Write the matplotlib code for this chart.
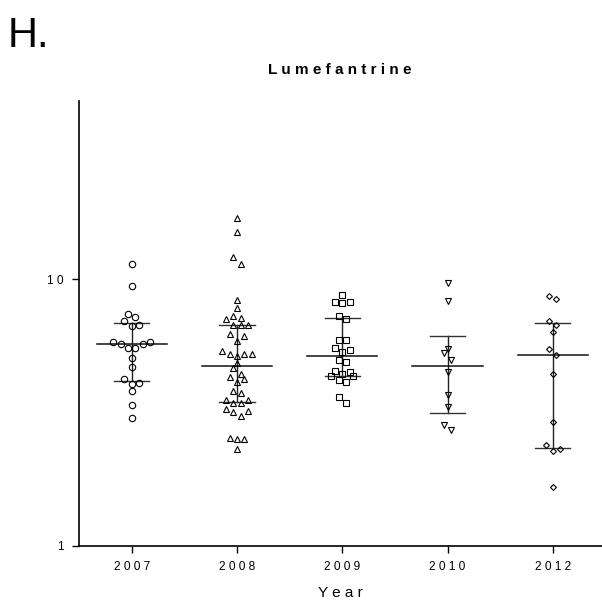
import numpy as np
import matplotlib.pyplot as plt

# values (log scale)
years = ['2007', '2008', '2009', '2010', '2012']

v2007 = [11.4, 9.4, 7.41, 7.2, 6.95, 6.74, 6.67, 5.81, 5.81, 5.71, 5.71,
         5.53, 5.53, 5.05, 4.68, 4.23, 4.10, 4.04, 3.80, 3.38, 3.01]
v2008 = [16.9, 15.0, 12.1, 11.4, 8.36, 7.83, 7.29, 7.16, 7.10, 6.72, 6.72,
         6.72, 6.22, 6.13, 5.86, 5.40, 5.23, 5.23, 5.23, 5.16, 4.84, 4.64,
         4.41, 4.31, 4.23, 4.12, 3.81, 3.74, 3.53, 3.53, 3.43, 3.43, 3.25,
         3.21, 3.17, 3.07, 2.55, 2.51, 2.51, 2.32]
v2009 = [8.73, 8.24, 8.24, 8.13, 7.30, 7.12, 5.90, 5.90, 5.54, 5.42, 5.32,
         5.00, 4.91, 4.54, 4.49, 4.42, 4.35, 4.35, 4.19, 4.12, 3.62, 3.43]
v2010 = [9.71, 8.29, 5.48, 5.29, 4.98, 4.49, 3.69, 3.31, 2.83, 2.73]
v2012 = [8.66, 8.44, 6.99, 6.74, 6.33, 5.48, 5.20, 4.43, 2.92, 2.39, 2.31,
         2.27, 1.67]

medians = [5.71, 4.73, 5.16, 4.72, 5.20]
q1 = [4.16, 3.47, 4.33, 3.16, 2.34]
q3 = [6.84, 6.72, 7.14, 6.13, 6.88]

groups = [v2007, v2008, v2009, v2010, v2012]
markers = ['o', '^', 's', 'v', 'D']
msizes = [4.6, 4.2, 4.2, 4.2, 3.0]

plt.rcParams['font.family'] = ['Liberation Sans', 'DejaVu Sans']

fig = plt.figure(figsize=(6.02, 6.02), dpi=100)
ax = fig.add_axes([78.5/602, 56/602, (602-78.5)/602, 445/602])
ax.set_yscale('log')
ax.set_xlim(-0.505, 4.467)
ax.set_ylim(1, 46.6)


def swarm_offsets(vals, xc, step=7.3, bin_h=7.0):
    # GraphPad-like layout: bin points by pixel height, centre each row
    vals = np.asarray(vals, dtype=float)
    pix = ax.transData.transform(np.column_stack([np.full(len(vals), xc), vals]))
    ypix = pix[:, 1]
    order = np.argsort(ypix)
    xs = np.full(len(vals), float(xc))
    i = 0
    while i < len(order):
        j = i
        while j < len(order) and ypix[order[j]] - ypix[order[i]] <= bin_h:
            j += 1
        idx = order[i:j]
        n = len(idx)
        slots = [(k - (n - 1) / 2) * step for k in range(n)]
        slots.sort(key=lambda s: (abs(s), -s))
        for s, p in zip(slots, idx):
            px = pix[p, 0] + s
            xs[p] = ax.transData.inverted().transform((px, ypix[p]))[0]
        i = j
    return xs


for g, vals in enumerate(groups):
    xs = swarm_offsets(vals, g)
    ax.plot(xs, vals, linestyle='none', marker=markers[g], ms=msizes[g],
            mfc='none', mec='black', mew=0.8, zorder=3)
    ax.plot([g, g], [q1[g], q3[g]], color='#222222', lw=1.0, zorder=2)
    ax.plot([g - 0.333, g + 0.333], [medians[g]] * 2, color='#111111', lw=1.1, zorder=2)
    ax.plot([g - 0.167, g + 0.167], [q1[g]] * 2, color='#333333', lw=1.0, zorder=2)
    ax.plot([g - 0.167, g + 0.167], [q3[g]] * 2, color='#333333', lw=1.0, zorder=2)

ax.spines['top'].set_visible(False)
ax.spines['right'].set_visible(False)
ax.spines['left'].set_linewidth(1.2)
ax.spines['bottom'].set_linewidth(1.2)

ax.set_xticks(range(len(years)))
ax.set_xticklabels([' '.join(y) for y in years], fontsize=8.6)
ax.set_yticks([1, 10])
ax.set_yticklabels(['1', '1 0'], fontsize=8.6)
ax.yaxis.set_minor_locator(plt.NullLocator())
ax.tick_params(axis='both', direction='out', length=5, width=1.0, pad=6)

ax.set_xlabel('Y e a r', fontsize=11, labelpad=9)
fig.text(340/602, 1 - 70/602, ' '.join('Lumefantrine'), ha='center', va='center',
         fontsize=11, fontweight='bold')
fig.text(8/602, 1 - 47/602, 'H.', ha='left', va='baseline', fontsize=30)

fig.savefig('out.png', dpi=100)
